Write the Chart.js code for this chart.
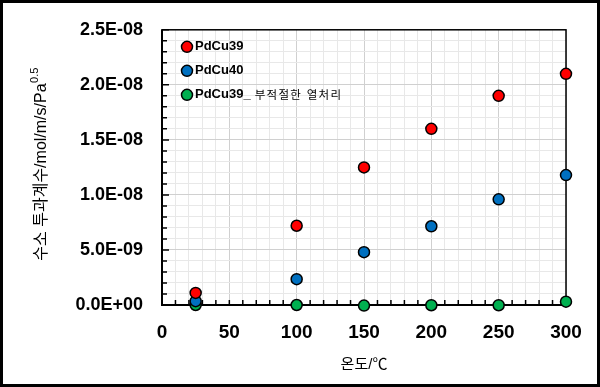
<!DOCTYPE html>
<html>
<head>
<meta charset="utf-8">
<script src="https://cdn.jsdelivr.net/npm/chart.js@4.4.1/dist/chart.umd.min.js"></script>
<style>
    html, body { margin: 0; padding: 0; background: #fff; }
    #wrap { width: 600px; height: 387px; position: relative; }
</style>
</head>
<body>
<div id="wrap"><canvas id="chart"></canvas></div>
<script>
// Data
const temps = [25, 100, 150, 200, 250, 300];
const pdcu39 = [1.1e-9, 7.2e-9, 1.25e-8, 1.6e-8, 1.9e-8, 2.1e-8];
const pdcu40 = [0.35e-9, 2.35e-9, 4.8e-9, 7.15e-9, 9.6e-9, 1.18e-8];
const pdcu39Bad = [0.0, 0.0, -0.05e-9, -0.02e-9, -0.02e-9, 0.3e-9];

const seriesNames = ['PdCu39', 'PdCu40', 'PdCu39_ 부적절한 열처리'];
const seriesColors = ['#ff0000', '#0070c0', '#00b050'];

const xTitle = '온도/℃';
const yTitle = '수소 투과계수/mol/m/s/Pa';
const yTitleSup = '0.5';

const LATIN = '"Liberation Sans", Arial, "Noto Sans CJK KR", sans-serif';
const KOREAN = '"Liberation Sans", "Noto Sans CJK KR", sans-serif';

function toPoints(ys) {
    return temps.map((t, i) => ({ x: t, y: ys[i] }));
}

// 2.5E-08 style labels
function formatSci(v) {
    if (Math.abs(v) < 1e-15) return '0.0E+00';
    let exp = Math.floor(Math.log10(Math.abs(v)));
    let mant = v / Math.pow(10, exp);
    if (Math.abs(mant) >= 9.95) { mant /= 10; exp += 1; }
    const sign = exp < 0 ? '-' : '+';
    return mant.toFixed(1) + 'E' + sign + String(Math.abs(exp)).padStart(2, '0');
}

const isMajorX = v => Math.round(v) % 50 === 0;
const isMajorY = v => Math.round(v / 1e-9) % 5 === 0;

// white background, plot frame, inward ticks, outer border, y title, legend
const decorPlugin = {
    id: 'decor',
    beforeDraw(chart) {
        const ctx = chart.ctx;
        ctx.save();
        ctx.fillStyle = '#fff';
        ctx.fillRect(0, 0, chart.width, chart.height);
        ctx.restore();
    },
    beforeDatasetsDraw(chart) {
        const ctx = chart.ctx;
        const a = chart.chartArea;
        const xs = chart.scales.x;
        const ys = chart.scales.y;
        ctx.save();
        ctx.strokeStyle = '#000';

        // frame top/right
        ctx.lineWidth = 1.5;
        ctx.strokeRect(a.left, a.top, a.right - a.left, a.bottom - a.top);

        // axes left/bottom
        ctx.lineWidth = 2;
        ctx.beginPath();
        ctx.moveTo(a.left, a.top);
        ctx.lineTo(a.left, a.bottom);
        ctx.lineTo(a.right, a.bottom);
        ctx.stroke();

        // inward tick marks
        ctx.lineWidth = 1.5;
        ctx.beginPath();
        xs.ticks.forEach(t => {
            const px = xs.getPixelForValue(t.value);
            ctx.moveTo(px, a.bottom);
            ctx.lineTo(px, a.bottom - 5);
        });
        ys.ticks.forEach(t => {
            const py = ys.getPixelForValue(t.value);
            const len = isMajorY(t.value) ? 7 : 5;
            ctx.moveTo(a.left, py);
            ctx.lineTo(a.left + len, py);
        });
        ctx.stroke();
        ctx.restore();
    },
    afterDraw(chart) {
        const ctx = chart.ctx;
        const a = chart.chartArea;
        ctx.save();

        // y title with superscript
        ctx.fillStyle = '#000';
        ctx.textBaseline = 'middle';
        const mainFont = '16px ' + KOREAN;
        const supFont = '11px ' + LATIN;
        ctx.font = mainFont;
        const w1 = ctx.measureText(yTitle).width;
        ctx.font = supFont;
        const w2 = ctx.measureText(yTitleSup).width;
        const cy = (a.top + a.bottom) / 2 - 3;
        ctx.translate(42, cy);
        ctx.rotate(-Math.PI / 2);
        const start = -(w1 + w2) / 2;
        ctx.font = mainFont;
        ctx.textAlign = 'left';
        ctx.fillText(yTitle, start, 0);
        ctx.font = supFont;
        ctx.fillText(yTitleSup, start + w1 + 0.5, -7);
        ctx.setTransform(1, 0, 0, 1, 0, 0);

        // legend inside plot
        chart.data.datasets.forEach((ds, i) => {
            const cx = a.left + 25;
            const ly = a.top + 17 + i * 24;
            ctx.beginPath();
            ctx.arc(cx, ly, 5.5, 0, Math.PI * 2);
            ctx.fillStyle = ds.backgroundColor;
            ctx.fill();
            ctx.lineWidth = 1.5;
            ctx.strokeStyle = '#000';
            ctx.stroke();

            const parts = ds.label.split('_ ');
            ctx.fillStyle = '#000';
            ctx.textAlign = 'left';
            ctx.textBaseline = 'middle';
            ctx.font = 'bold 13px ' + LATIN;
            let tx = cx + 8;
            const boldPart = parts.length > 1 ? parts[0] + '_' : parts[0];
            ctx.fillText(boldPart, tx, ly);
            if (parts.length > 1) {
                tx += ctx.measureText(boldPart).width + 4;
                ctx.font = '11.5px ' + KOREAN;
                ctx.letterSpacing = '1.3px';
                ctx.fillText(parts[1], tx, ly + 1);
                ctx.letterSpacing = '0px';
            }
        });

        // outer picture border
        ctx.strokeStyle = '#000';
        ctx.lineWidth = 3;
        ctx.strokeRect(1.5, 1.5, chart.width - 3, chart.height - 3);
        ctx.restore();
    }
};

const datasets = [pdcu39, pdcu40, pdcu39Bad].map((vals, i) => ({
    label: seriesNames[i],
    data: toPoints(vals),
    backgroundColor: seriesColors[i],
    borderColor: '#000',
    borderWidth: 1.5,
    pointRadius: 5.5,
    pointHoverRadius: 5.5,
    showLine: false,
    clip: false
}));

new Chart(document.getElementById('chart'), {
    type: 'scatter',
    data: { datasets: datasets },
    plugins: [decorPlugin],
    options: {
        responsive: true,
        maintainAspectRatio: false,
        animation: false,
        events: [],
        layout: { padding: { left: 0, right: 34, top: 22, bottom: 0 } },
        plugins: {
            legend: { display: false },
            tooltip: { enabled: false }
        },
        scales: {
            x: {
                type: 'linear',
                min: 0,
                max: 300,
                afterFit: s => { s.height = 82; },
                border: { display: false },
                grid: {
                    drawTicks: false,
                    color: c => isMajorX(c.tick.value) ? '#d0d0d0' : '#e8e8e8',
                    lineWidth: 1
                },
                ticks: {
                    stepSize: 10,
                    padding: 16,
                    color: '#000',
                    font: { family: LATIN, size: 19, weight: 'bold' },
                    maxRotation: 0,
                    autoSkip: false,
                    callback: v => isMajorX(v) ? String(v) : ''
                },
                title: {
                    display: true,
                    text: xTitle,
                    color: '#000',
                    font: { family: KOREAN, size: 15 },
                    padding: { top: 6, bottom: 13 }
                }
            },
            y: {
                type: 'linear',
                min: 0,
                max: 2.5e-8,
                afterFit: s => { s.width = 162; },
                border: { display: false },
                grid: {
                    drawTicks: false,
                    color: c => isMajorY(c.tick.value) ? '#d0d0d0' : '#e8e8e8',
                    lineWidth: 1
                },
                ticks: {
                    stepSize: 1e-9,
                    padding: 19,
                    color: '#000',
                    font: { family: LATIN, size: 18, weight: 'bold' },
                    autoSkip: false,
                    callback: v => isMajorY(v) ? formatSci(v) : ''
                }
            }
        }
    }
});
</script>
</body>
</html>
